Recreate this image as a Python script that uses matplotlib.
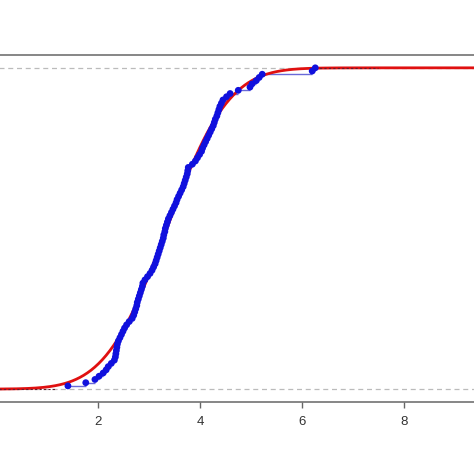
import math
import numpy as np
import matplotlib
matplotlib.use('Agg')
import matplotlib.pyplot as plt

plt.rcParams['font.family'] = ['Liberation Sans', 'DejaVu Sans']

# sorted sample values
sample = [1.41, 1.76, 1.94, 2.02, 2.10, 2.16, 2.20, 2.26, 2.32, 2.34,
          2.35, 2.36, 2.37, 2.38, 2.40, 2.43, 2.46, 2.49, 2.52, 2.56,
          2.61, 2.67, 2.70, 2.72, 2.74, 2.76, 2.77, 2.79, 2.81, 2.83,
          2.85, 2.87, 2.88, 2.92, 2.97, 3.02, 3.06, 3.09, 3.12, 3.14,
          3.16, 3.18, 3.20, 3.22, 3.24, 3.26, 3.28, 3.29, 3.31, 3.32,
          3.34, 3.36, 3.38, 3.41, 3.44, 3.47, 3.50, 3.53, 3.55, 3.58,
          3.61, 3.64, 3.67, 3.69, 3.71, 3.73, 3.75, 3.76, 3.77, 3.85,
          3.91, 3.95, 3.99, 4.03, 4.05, 4.08, 4.11, 4.14, 4.17, 4.20,
          4.23, 4.26, 4.28, 4.30, 4.33, 4.35, 4.37, 4.39, 4.42, 4.45,
          4.52, 4.59, 4.75, 4.98, 5.02, 5.10, 5.16, 5.22, 6.20, 6.26]

# fitted normal
mu = 3.35
sigma = 0.95

xticks = [2, 4, 6, 8]
xmin, xmax = -1.0, 10.0

x = np.array(sample)
n = len(x)
F = np.arange(1, n + 1) / n

fig = plt.figure(figsize=(4.74, 4.74), dpi=100)
ax = fig.add_axes([-0.116, 0.152, 1.1835, 0.732])

# reference lines at 0 and 1
ax.axhline(0, color='#bbbbbb', lw=0.9, ls=(0, (4, 3)), zorder=1)
ax.axhline(1, color='#bbbbbb', lw=0.9, ls=(0, (4, 3)), zorder=1)

# ecdf horizontal steps
ax.hlines(F[:-1], x[:-1], x[1:], color='#6a6ad8', lw=1.0, zorder=2)

# normal cdf
xs = np.linspace(xmin, xmax, 600)
cdf = np.array([0.5 * (1 + math.erf((v - mu) / (sigma * math.sqrt(2)))) for v in xs])
ax.plot(xs, cdf, color='#e01010', lw=2.0, zorder=3)

# dark tails of the step function
ax.hlines(0, xmin, 1.2, color='#602030', lw=0.8, ls=(0, (2, 2)), zorder=4)
ax.hlines(1, x[-1], 7.5, color='#602030', lw=0.8, ls=(0, (2, 2)), zorder=4)

ax.scatter(x, F, s=24, color='#1010dd', edgecolors='none', zorder=5)

ax.set_xlim(xmin, xmax)
ax.set_ylim(-0.04, 1.04)
ax.set_xticks(xticks)
ax.set_yticks([])
for s in ['left', 'right']:
    ax.spines[s].set_visible(False)
for s in ['top', 'bottom']:
    ax.spines[s].set_color('#666666')
    ax.spines[s].set_linewidth(1.1)
ax.tick_params(axis='x', direction='out', length=4, width=1, color='#666666',
               labelsize=9.5, labelcolor='#333333', pad=6)

fig.savefig('out.png', dpi=100)
